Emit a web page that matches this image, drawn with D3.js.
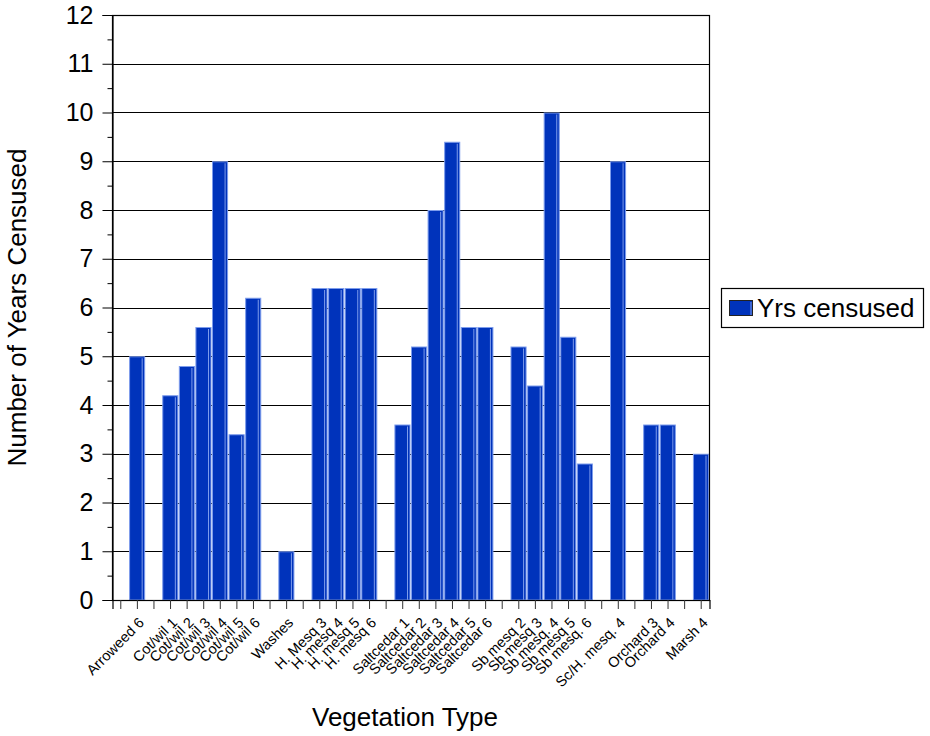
<!DOCTYPE html>
<html>
<head>
<meta charset="utf-8">
<script src="https://cdn.jsdelivr.net/npm/d3@7"></script>
<style>
  body { margin: 0; background: #fff; }
  svg { display: block; font-family: "Liberation Sans", Arial, sans-serif; }
</style>
</head>
<body>
<svg id="chart" width="930" height="736"></svg>
<script>
// Categories (empty strings are blank slots in the original chart)
const categories = [
  "", "Arroweed 6", "",
  "Cot/wil 1", "Cot/wil 2", "Cot/wil 3", "Cot/wil 4", "Cot/wil 5", "Cot/wil 6", "",
  "Washes", "",
  "H. Mesq 3", "H. mesq 4", "H. mesq 5", "H. mesq 6", "",
  "Saltcedar 1", "Saltcedar 2", "Saltcedar 3", "Saltcedar 4", "Saltcedar 5", "Saltcedar 6", "",
  "Sb mesq 2", "Sb mesq 3", "Sb mesq. 4", "Sb mesq 5", "Sb mesq. 6", "",
  "Sc/H. mesq. 4", "",
  "Orchard 3", "Orchard 4", "",
  "Marsh 4"
];
// Years censused (null = no bar)
const yrsCensused = [
  null, 5.0, null,
  4.2, 4.8, 5.6, 9.0, 3.4, 6.2, null,
  1.0, null,
  6.4, 6.4, 6.4, 6.4, null,
  3.6, 5.2, 8.0, 9.4, 5.6, 5.6, null,
  5.2, 4.4, 10.0, 5.4, 2.8, null,
  9.0, null,
  3.6, 3.6, null,
  3.0
];
const yTicks = [0,1,2,3,4,5,6,7,8,9,10,11,12];
const yMinorTicks = [0.5,1.5,2.5,3.5,4.5,5.5,6.5,7.5,8.5,9.5,10.5,11.5];
const seriesName = "Yrs censused";
const xTitle = "Vegetation Type";
const yTitle = "Number of Years Censused";

const svg = d3.select("#chart");
const plot = { left: 112.5, right: 709.5, top: 15, bottom: 600 };

const x = d3.scaleBand()
  .domain(d3.range(categories.length))
  .range([plot.left, plot.right])
  .paddingInner(0).paddingOuter(0);
const y = d3.scaleLinear().domain([0, 12]).range([plot.bottom, plot.top]);

const barColor = "#0033bb";
const lightColor = "#7d9cec";

// gridlines
svg.append("g").selectAll("line").data(yTicks).join("line")
  .attr("x1", plot.left).attr("x2", plot.right)
  .attr("y1", d => Math.round(y(d)) + 0.5).attr("y2", d => Math.round(y(d)) + 0.5)
  .attr("stroke", "#000").attr("stroke-width", 1);

// bars
const barData = yrsCensused.map((v, i) => ({ i, v })).filter(d => d.v != null);
const bars = svg.append("g");
bars.selectAll("rect").data(barData).join("rect")
  .attr("x", d => x(d.i) + 0.5)
  .attr("y", d => y(d.v) + 0.5)
  .attr("width", x.bandwidth() - 1.5)
  .attr("height", d => y(0) - y(d.v) - 0.5)
  .attr("fill", barColor)
  .attr("stroke", lightColor).attr("stroke-width", 1);
bars.selectAll("line").data(barData).join("line")
  .attr("x1", d => x(d.i) + x.bandwidth() - 3.5)
  .attr("x2", d => x(d.i) + x.bandwidth() - 3.5)
  .attr("y1", d => y(d.v) + 2)
  .attr("y2", y(0))
  .attr("stroke", lightColor).attr("stroke-width", 1);

// plot border (top/right)
svg.append("rect")
  .attr("x", plot.left).attr("y", Math.round(y(12)) + 0.5)
  .attr("width", plot.right - plot.left).attr("height", plot.bottom - plot.top)
  .attr("fill", "none").attr("stroke", "#000").attr("stroke-width", 1.2);

// y axis
const yAxis = d3.axisLeft(y).tickValues(yTicks).tickSize(10).tickPadding(9)
  .tickFormat(d3.format("d"));
const gy = svg.append("g").attr("transform", `translate(${plot.left},0)`).call(yAxis);
gy.select(".domain").attr("stroke", "#000").attr("stroke-width", 1.2);
gy.selectAll(".tick line").attr("stroke", "#000");
gy.selectAll(".tick text").attr("font-size", 25).attr("font-family", "Liberation Sans, Arial, sans-serif").attr("fill", "#000");
const gyMinor = svg.append("g").attr("transform", `translate(${plot.left},0)`)
  .call(d3.axisLeft(y).tickValues(yMinorTicks).tickSize(5).tickFormat(""));
gyMinor.select(".domain").remove();
gyMinor.selectAll(".tick line").attr("stroke", "#000");

// x axis
const xAxis = d3.axisBottom(x).tickSize(9).tickPadding(3).tickFormat(i => categories[i]);
const gx = svg.append("g").attr("transform", `translate(0,${plot.bottom})`).call(xAxis);
gx.select(".domain").attr("stroke", "#000").attr("stroke-width", 1.2);
gx.selectAll(".tick line").attr("stroke", "#333");
gx.selectAll(".tick text")
  .attr("font-size", 14.5).attr("font-family", "Liberation Sans, Arial, sans-serif").attr("fill", "#000")
  .attr("text-anchor", "end")
  .attr("transform", "translate(4,20) rotate(-45)")
  .attr("x", 0).attr("y", 0).attr("dy", "0.35em");

// axis titles
svg.append("text")
  .attr("x", 405).attr("y", 726)
  .attr("text-anchor", "middle").attr("font-size", 26).attr("fill", "#000")
  .text(xTitle);
svg.append("text")
  .attr("transform", `translate(26,${(plot.top + plot.bottom) / 2}) rotate(-90)`)
  .attr("text-anchor", "middle").attr("font-size", 26).attr("fill", "#000")
  .text(yTitle);

// legend
const lg = svg.append("g");
lg.append("rect").attr("x", 721.5).attr("y", 288.5).attr("width", 202).attr("height", 39)
  .attr("fill", "#fff").attr("stroke", "#000").attr("stroke-width", 1.2);
lg.append("rect").attr("x", 729.5).attr("y", 300.5).attr("width", 23).attr("height", 15)
  .attr("fill", barColor).attr("stroke", "#222").attr("stroke-width", 1);
lg.append("line").attr("x1", 751).attr("x2", 751).attr("y1", 302).attr("y2", 315)
  .attr("stroke", lightColor);
lg.append("text").attr("x", 757).attr("y", 317).attr("font-size", 26).attr("fill", "#000")
  .text(seriesName);
</script>
</body>
</html>
